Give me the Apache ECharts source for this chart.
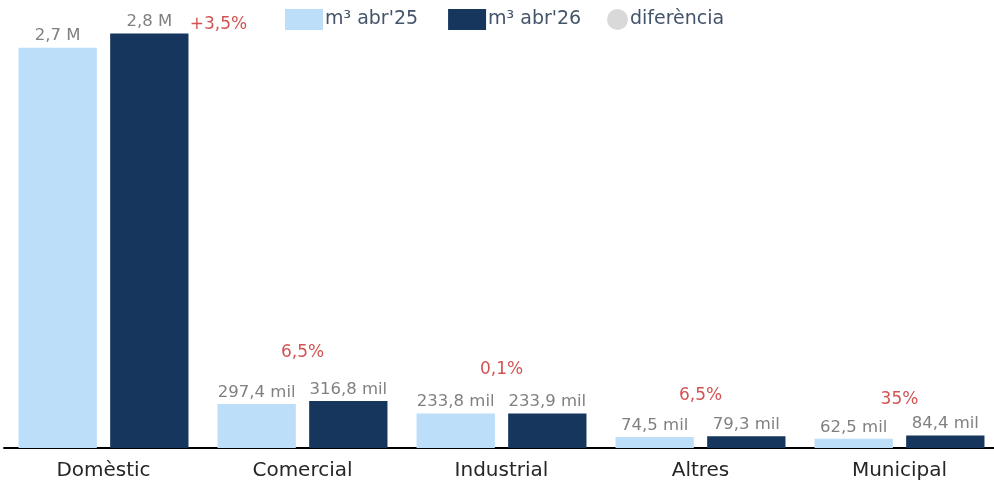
<!DOCTYPE html>
<html>
<head>
<meta charset="utf-8">
<script src="https://cdn.jsdelivr.net/npm/echarts@6/dist/echarts.min.js"></script>
<style>
  html, body { margin: 0; padding: 0; background: #fff; }
  #chart { width: 994px; height: 484px; }
</style>
</head>
<body>
<div id="chart"></div>
<script>
// dades
const categories = ['Domèstic', 'Comercial', 'Industrial', 'Altres', 'Municipal'];
const abr25 = [2705000, 297400, 233800, 74500, 62500];
const abr26 = [2800000, 316800, 233900, 79300, 84400];
const diffLabels = ['+3,5%', '6,5%', '0,1%', '6,5%', '35%'];
// posició vertical de les etiquetes de diferència (llegida del gràfic)
const diffPos = [2858000, 642000, 527000, 351000, 324000];

const FONT = 'DejaVu Sans';

function fmt(v) {
    if (v >= 1e6) return (v / 1e6).toFixed(1).replace('.', ',') + ' M';
    return (v / 1e3).toFixed(1).replace('.', ',') + ' mil';
}

const chart = echarts.init(document.getElementById('chart'));

const barLabel = {
    show: true,
    position: 'top',
    distance: 3,
    color: '#808080',
    fontFamily: FONT,
    fontSize: 16.5,
    formatter: p => fmt(p.value)
};

const legendText = { color: '#44546A', fontFamily: FONT, fontSize: 19, padding: [3, 0, 0, -3] };

const option = {
    animation: false,
    legend: [
        {
            top: 4,
            left: 280,
            itemWidth: 38,
            itemHeight: 21,
            itemGap: 30,
            textStyle: legendText,
            data: [
                { name: "m³ abr'25", icon: 'rect' },
                { name: "m³ abr'26", icon: 'rect' }
            ]
        },
        {
            top: 4,
            left: 602,
            itemWidth: 21,
            itemHeight: 21,
            textStyle: legendText,
            data: [{ name: 'diferència', icon: 'circle' }]
        }
    ],
    grid: { left: 4, right: -5, top: 4, bottom: 36, outerBoundsMode: 'none' },
    xAxis: {
        type: 'category',
        data: categories,
        axisTick: { show: false },
        axisLine: { lineStyle: { color: '#000', width: 2 } },
        axisLabel: { color: '#262626', fontFamily: FONT, fontSize: 20, margin: 13 }
    },
    yAxis: {
        type: 'value',
        min: 0,
        max: 3000000,
        show: false,
        splitLine: { show: false }
    },
    series: [
        {
            name: "m³ abr'25",
            type: 'bar',
            data: abr25,
            barGap: '17%',
            barCategoryGap: '14.6%',
            itemStyle: { color: '#BDDEF8' },
            label: barLabel
        },
        {
            name: "m³ abr'26",
            type: 'bar',
            data: abr26,
            itemStyle: { color: '#17365D' },
            label: barLabel
        },
        {
            name: 'diferència',
            type: 'scatter',
            symbolSize: 0,
            itemStyle: { color: '#D0D0D0' },
            data: diffPos.map((v, i) => ({
                value: v,
                label: i === 0 ? { offset: [115, 0] } : {}
            })),
            label: {
                show: true,
                position: 'inside',
                color: '#C62828',
                fontFamily: FONT,
                fontSize: 17,
                formatter: p => diffLabels[p.dataIndex]
            }
        }
    ]
};

chart.setOption(option);
</script>
</body>
</html>
